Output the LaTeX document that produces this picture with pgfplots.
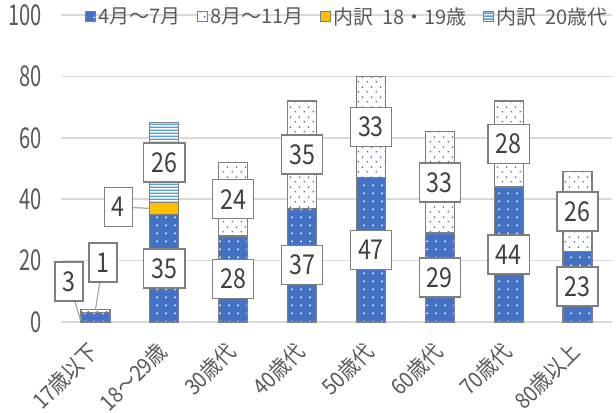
\documentclass[border=0pt]{standalone}
\usepackage{fontspec}
\usepackage{pgfplots}
\pgfplotsset{compat=1.18}
\usetikzlibrary{patterns}
\setmainfont{Noto Sans CJK JP}
\newfontfamily\condA[FakeStretch=0.7]{Noto Sans CJK JP}
\newfontfamily\condB[FakeStretch=0.85]{Noto Sans CJK JP}
\newfontfamily\condC[FakeStretch=0.9]{Noto Sans CJK JP}
\definecolor{bblue}{HTML}{4472C4}
\definecolor{sblue}{HTML}{5B9BD5}
\definecolor{yel}{HTML}{FFC000}
\definecolor{edge}{HTML}{7F7F7F}
\definecolor{gridc}{HTML}{D9D9D9}
\definecolor{txt}{HTML}{595959}
\definecolor{ltxt}{HTML}{404040}
\definecolor{lead}{HTML}{A6A6A6}
\pgfdeclarepatternformonly{wdots}{\pgfqpoint{0pt}{0pt}}{\pgfqpoint{6.75pt}{6pt}}{\pgfqpoint{6.75pt}{6pt}}{%
  \pgfpathrectangle{\pgfqpoint{2.8pt}{2.4pt}}{\pgfqpoint{1.2pt}{1.2pt}}\pgfusepath{fill}}
\pgfdeclarepatternformonly{bdots}{\pgfqpoint{0pt}{0pt}}{\pgfqpoint{6.5pt}{7.5pt}}{\pgfqpoint{6.5pt}{7.5pt}}{%
  \pgfpathrectangle{\pgfqpoint{0.5pt}{0.5pt}}{\pgfqpoint{1.1pt}{1.1pt}}%
  \pgfpathrectangle{\pgfqpoint{3.75pt}{4.25pt}}{\pgfqpoint{1.1pt}{1.1pt}}\pgfusepath{fill}}
\pgfdeclarepatternformonly{hstripes}{\pgfqpoint{0pt}{0pt}}{\pgfqpoint{1pt}{2.5pt}}{\pgfqpoint{1pt}{2.5pt}}{%
  \pgfpathrectangle{\pgfqpoint{0pt}{0pt}}{\pgfqpoint{1pt}{1.3pt}}\pgfusepath{fill}}
\begin{document}
\begin{tikzpicture}
\path[use as bounding box] (0,0) rectangle (462pt,309pt);
\pgfplotsset{common/.style={at={(45.75pt,67.5pt)}, anchor=south west, scale only axis,
  width=413.25pt, height=230.25pt, xmin=-0.5, xmax=7.5, ymin=0, ymax=100}}
\begin{axis}[common, ybar stacked, bar width=21.75pt,
  axis line style={draw=none}, tick style={draw=none},
  ymajorgrids, grid style={gridc, line width=1.1pt},
  ytick={0,20,...,100},
  /pgf/number format/assume math mode=true,
  yticklabel style={anchor=east, inner sep=0pt, xshift=-14pt, text=txt, font=\condA\fontsize{21.5}{22}\selectfont},
  xtick={0,...,7},
  xticklabels={17歳以下,18～29歳,30歳代,40歳代,50歳代,60歳代,70歳代,80歳以上},
  xticklabel style={xshift=-1pt, yshift=-19pt, rotate=45, anchor=east, inner sep=0pt, text=txt, font=\condC\fontsize{16.5}{17}\selectfont},
  legend columns=4,
  legend style={at={(0.0436,0.9935)}, anchor=west, draw=none, fill=none, inner sep=0pt,
    font=\fontsize{15}{16}\selectfont, text=txt,
    nodes={inner xsep=1.5pt, inner ysep=0pt},
    /tikz/every even column/.append style={column sep=11pt}},
  legend image code/.code={\draw[#1, line width=0.75pt] (0pt,-3.75pt) rectangle (7.5pt,3.75pt);},
]
\addplot[fill=bblue, draw=edge, line width=1pt, postaction={pattern=wdots, pattern color=white}]
  coordinates {(0,3) (1,35) (2,28) (3,37) (4,47) (5,29) (6,44) (7,23)};
\addlegendentry{4月～7月}
\addplot[fill=white, draw=edge, line width=1pt, postaction={pattern=bdots, pattern color=bblue}]
  coordinates {(0,1) (1,0) (2,24) (3,35) (4,33) (5,33) (6,28) (7,26)};
\addlegendentry{8月～11月}
\addplot[fill=yel, draw=edge, line width=1pt]
  coordinates {(0,0) (1,4) (2,0) (3,0) (4,0) (5,0) (6,0) (7,0)};
\addlegendentry{内訳\ \ 18・19歳}
\addplot[fill=white, draw=edge, line width=1pt, postaction={pattern=hstripes, pattern color=sblue}]
  coordinates {(0,0) (1,26) (2,0) (3,0) (4,0) (5,0) (6,0) (7,0)};
\addlegendentry{内訳\ \ 20歳代}
\end{axis}
\begin{axis}[common, hide axis, clip=false]
\addplot[lead, line width=0.9pt] coordinates {(-0.384,13.2) (-0.217,0.6)};
\addplot[lead, line width=0.9pt] coordinates {(0.109,19.4) (0.0,4)};
\addplot[lead, line width=0.9pt] coordinates {(0.333,37.5) (0.79,37)};
\addplot[only marks, mark=*, mark size=0pt, mark options={draw=none, fill=none},
  nodes near coords, point meta=explicit symbolic,
  every node near coord/.append style={anchor=center, draw=edge, line width=1.1pt, fill=white,
    text=ltxt, font=\condB\fontsize{20.5}{22}\selectfont, inner xsep=5.75pt, inner ysep=0pt,
    minimum height=29.25pt}]
  coordinates {
    (-0.384,13.2) [3] (1,17.5) [35] (2,14) [28] (3,18.5) [37] (4,23.5) [47] (5,14.5) [29] (6,22) [44] (7,11.5) [23]
    (0.109,19.4) [1] (2,40) [24] (3,54.5) [35] (4,63.5) [33] (5,45.5) [33] (6,58) [28] (7,36) [26]
    (0.333,37.5) [4] (1,52) [26]
  };
\end{axis}
\end{tikzpicture}
\end{document}
